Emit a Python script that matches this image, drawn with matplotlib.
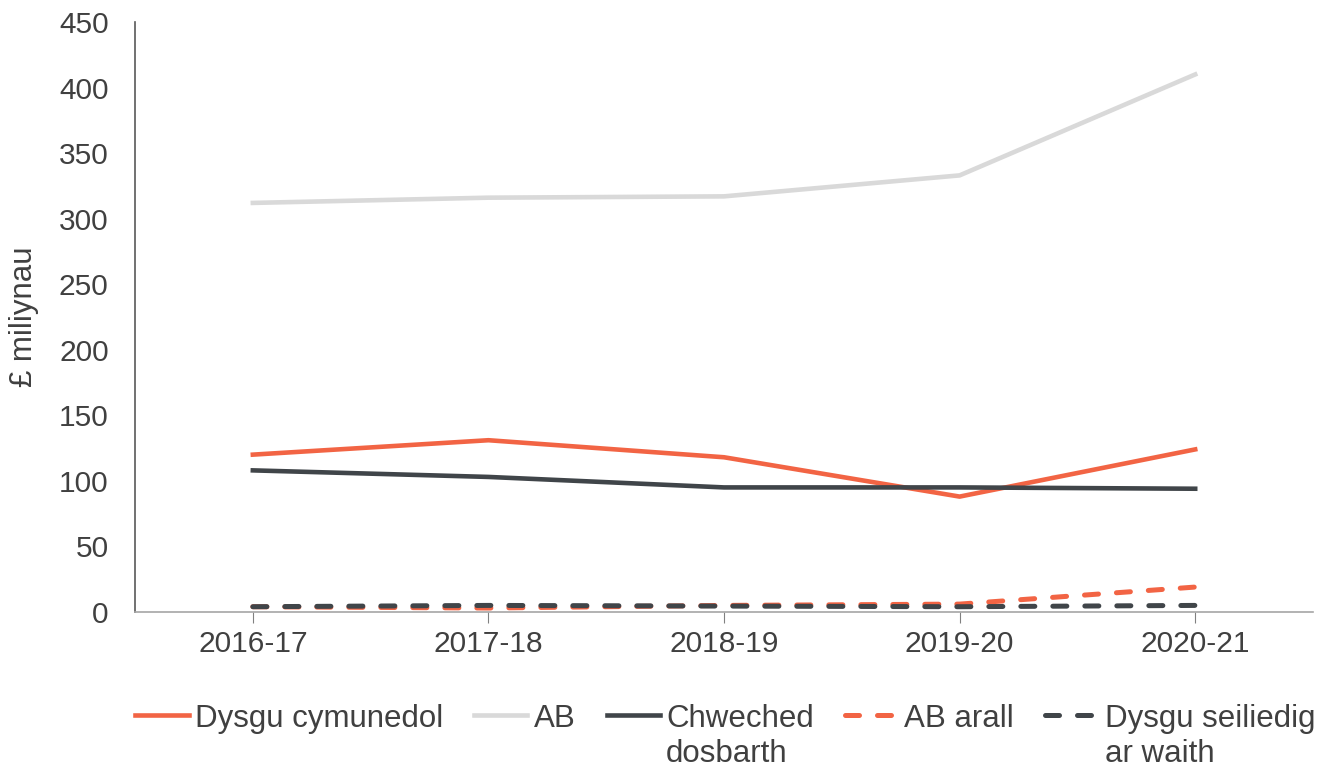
import matplotlib.pyplot as plt
import numpy as np

plt.rcParams['font.family'] = ['Liberation Sans', 'DejaVu Sans']

# data
years = ["2016-17", "2017-18", "2018-19", "2019-20", "2020-21"]
dysgu_cymunedol = [120, 131, 118, 88, 124]
ab = [312, 316, 317, 333, 410]
chweched = [108, 103, 95, 95, 94]
ab_arall = [4, 3, 5, 6, 19]
dysgu_seiliedig = [4, 5, 4.5, 4, 5]

orange = "#F26444"
light = "#D9D9D9"
dark = "#404549"
txt = "#404040"

fig = plt.figure(figsize=(13.28, 7.69), dpi=100)
ax = fig.add_axes([0.1017, 0.2042, 0.887, 0.7672])

x = np.arange(len(years)) + 0.5

ax.plot(x, dysgu_cymunedol, color=orange, lw=3.3, label="Dysgu cymunedol")
ax.plot(x, ab, color=light, lw=3.3, label="AB")
ax.plot(x, chweched, color=dark, lw=3.3, label="Chweched\ndosbarth")
ax.plot(x, ab_arall, color=orange, lw=3.6, ls=(0, (2.8, 3.6)), dash_capstyle="round",
        label="AB arall")
ax.plot(x, dysgu_seiliedig, color=dark, lw=3.6, ls=(0, (2.8, 3.6)), dash_capstyle="round",
        label="Dysgu seiliedig\nar waith")

ax.set_xlim(0, len(years))
ax.set_ylim(0, 450)
ax.set_yticks(np.arange(0, 451, 50))
ax.set_xticks(x)
ax.set_xticklabels(years)
ax.tick_params(axis="both", labelsize=21.5, colors=txt)
ax.tick_params(axis="y", length=0, pad=19)
ax.tick_params(axis="x", length=8, color="#808080", pad=5)
ax.set_ylabel("£ miliynau", fontsize=22.5, color=txt, labelpad=14)

for s in ["top", "right"]:
    ax.spines[s].set_visible(False)
ax.spines["left"].set_color("#595959")
ax.spines["bottom"].set_color("#A6A6A6")
ax.spines["left"].set_linewidth(1.2)
ax.spines["bottom"].set_linewidth(1.2)

leg = fig.legend(loc="upper left", bbox_to_anchor=(0.102, 0.084), ncol=5, frameon=False,
                 fontsize=22.5, handlelength=1.7, handletextpad=0.2, columnspacing=1.0,
                 borderaxespad=0, borderpad=0, labelcolor=txt)
leg._legend_handle_box.align = "top"
for col in leg._legend_handle_box.get_children():
    col.align = "top"
    for item in col.get_children():
        item.align = "top"

fig.savefig("out.png", dpi=100)
